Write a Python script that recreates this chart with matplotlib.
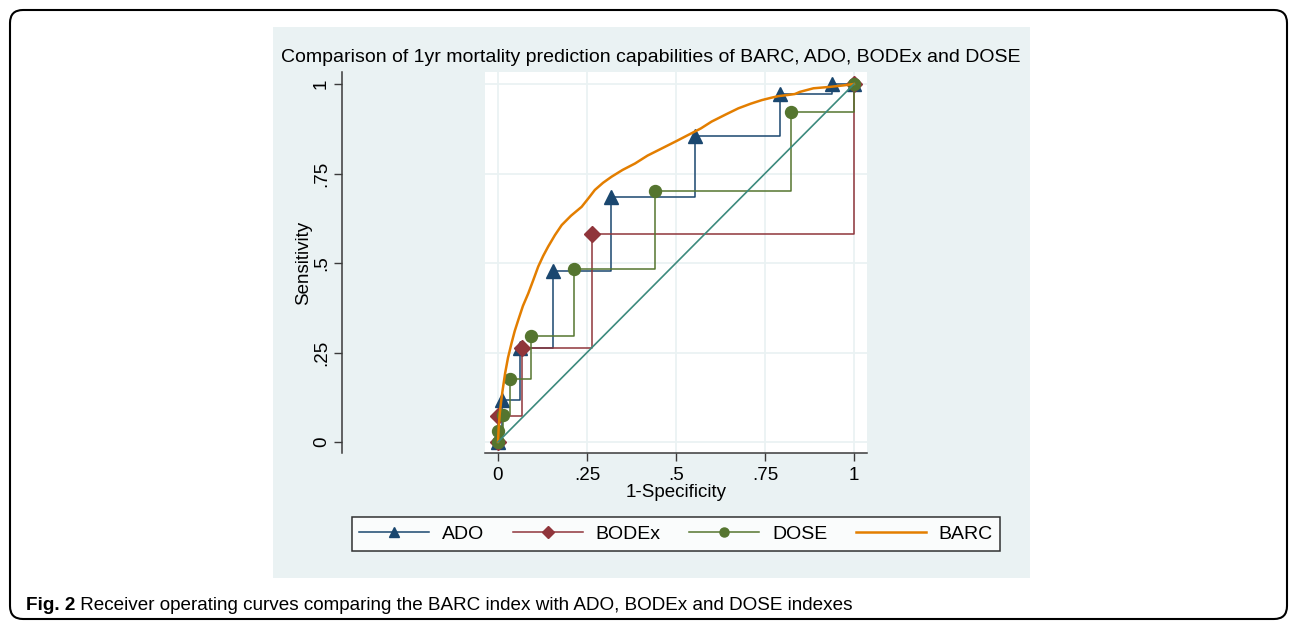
import matplotlib
matplotlib.use("Agg")
import matplotlib.pyplot as plt
from matplotlib.patches import Rectangle, FancyBboxPatch
from matplotlib.lines import Line2D

plt.rcParams['font.family'] = ['Liberation Sans', 'DejaVu Sans']

# ---------------- data ----------------
title = "Comparison of 1yr mortality prediction capabilities of BARC, ADO, BODEx and DOSE"
x_label = "1-Specificity"
y_label = "Sensitivity"
tick_values = [0, 0.25, 0.5, 0.75, 1]
tick_labels = ["0", ".25", ".5", ".75", "1"]
series_names = ["ADO", "BODEx", "DOSE", "BARC"]

ado_fpr = [0, 0.012, 0.062, 0.155, 0.318, 0.552, 0.791, 0.937, 1.0]
ado_tpr = [0, 0.117, 0.262, 0.477, 0.684, 0.855, 0.972, 1.0, 1.0]

bodex_fpr = [0, 0, 0.067, 0.263, 1.0]
bodex_tpr = [0, 0.072, 0.262, 0.580, 1.0]

dose_fpr = [0, 0, 0.014, 0.034, 0.093, 0.213, 0.441, 0.823, 1.0]
dose_tpr = [0, 0.030, 0.076, 0.175, 0.297, 0.483, 0.700, 0.921, 1.0]

barc_fpr = [0, 0.002, 0.005, 0.009, 0.013, 0.020, 0.028, 0.038, 0.047, 0.057, 0.070,
            0.085, 0.099, 0.113, 0.127, 0.141, 0.160, 0.179, 0.205, 0.235, 0.255,
            0.272, 0.295, 0.319, 0.350, 0.385, 0.420, 0.460, 0.500, 0.535, 0.570,
            0.600, 0.640, 0.675, 0.710, 0.741, 0.765, 0.787, 0.812, 0.834, 0.848,
            0.886, 0.933, 0.970, 1.0]
barc_tpr = [0, 0.040, 0.080, 0.115, 0.145, 0.192, 0.235, 0.276, 0.310, 0.341, 0.380,
            0.415, 0.452, 0.490, 0.520, 0.546, 0.578, 0.606, 0.632, 0.657, 0.682,
            0.704, 0.724, 0.741, 0.760, 0.778, 0.800, 0.820, 0.840, 0.858, 0.876,
            0.895, 0.915, 0.932, 0.945, 0.955, 0.961, 0.966, 0.969, 0.972, 0.978,
            0.988, 0.992, 0.996, 1.0]

diag = [0, 1]

caption_bold = "Fig. 2"
caption_rest = " Receiver operating curves comparing the BARC index with ADO, BODEx and DOSE indexes"

# ---------------- style ----------------
W, H = 1295, 622
c_ado = "#1a476f"
c_bodex = "#90353b"
c_dose = "#55752f"
c_barc = "#e37e00"
c_ref = "#3c8a7d"
c_panel = "#eaf2f3"
c_axis = "#3a3a3a"
fs = 13.5

fig = plt.figure(figsize=(W / 100, H / 100), dpi=100)

bg = fig.add_axes([0, 0, 1, 1], zorder=0)
bg.set_xlim(0, W)
bg.set_ylim(H, 0)
bg.axis("off")
bg.add_patch(Rectangle((273, 27), 1030 - 273, 578 - 27, facecolor=c_panel, edgecolor="none"))
bg.add_patch(FancyBboxPatch((10, 10), 1277, 609, boxstyle="round,pad=0,rounding_size=13",
                            facecolor="none", edgecolor="black", linewidth=1.5))

# plot region in pixels
L, R, T, B = 485, 867, 72, 453
ax = fig.add_axes([L / W, 1 - B / H, (R - L) / W, (B - T) / H], zorder=2)
ax.set_facecolor("white")

# data -> pixel mapping: x 0->498, 1->854 ; y 0->442, 1->84
x0p, x1p = 498, 854
y0p, y1p = 442, 84
ax.set_xlim((L - x0p) / (x1p - x0p), (R - x0p) / (x1p - x0p))
ax.set_ylim((y0p - B) / (y0p - y1p), (y0p - T) / (y0p - y1p))

for s in ["top", "right"]:
    ax.spines[s].set_visible(False)
for s in ["left", "bottom"]:
    ax.spines[s].set_color(c_axis)
    ax.spines[s].set_linewidth(1.1)
ax.spines["left"].set_position(("outward", (L - 342) * 0.72))

ax.set_xticks(tick_values)
ax.set_xticklabels(tick_labels)
ax.set_yticks(tick_values)
ax.set_yticklabels(tick_labels)
ax.grid(True, color=c_panel, linewidth=1.3)
ax.set_axisbelow(True)
ax.tick_params(axis="both", direction="out", length=5.8, width=1.0, color=c_axis,
               labelsize=fs, labelcolor="black")
ax.tick_params(axis="y", pad=3, labelrotation=90)
ax.tick_params(axis="x", pad=4)
for lab in ax.get_yticklabels():
    lab.set_va("center")
    lab.set_ha("right")

lw = 1.1
ax.plot(ado_fpr, ado_tpr, drawstyle="steps-post", color=c_ado, lw=lw,
        marker="^", markersize=10, zorder=3, clip_on=False)
ax.plot(bodex_fpr, bodex_tpr, drawstyle="steps-post", color=c_bodex, lw=lw,
        marker="D", markersize=8, zorder=3, clip_on=False)
ax.plot(dose_fpr, dose_tpr, drawstyle="steps-post", color=c_dose, lw=lw,
        marker="o", markersize=8.6, zorder=3, clip_on=False)
ax.plot(barc_fpr, barc_tpr, color=c_barc, lw=1.8, zorder=4, clip_on=False)
ax.plot(diag, diag, color=c_ref, lw=1.2, zorder=5)

ax.set_xlabel(x_label, fontsize=fs, labelpad=0)
ax.set_ylabel(y_label, fontsize=fs, labelpad=0.5)

fig.text(651 / W, 1 - 58 / H, title, fontsize=14, ha="center", va="center")

handles = [
    Line2D([], [], color=c_ado, lw=lw, marker="^", markersize=7.5),
    Line2D([], [], color=c_bodex, lw=lw, marker="D", markersize=6.5),
    Line2D([], [], color=c_dose, lw=lw, marker="o", markersize=6.5),
    Line2D([], [], color=c_barc, lw=1.8),
]
leg = fig.legend(handles, series_names, ncol=4, loc="center",
                 bbox_to_anchor=(676 / W, 1 - 534 / H), frameon=True, fancybox=False,
                 edgecolor="black", fontsize=14, handlelength=3.6, handletextpad=0.67,
                 columnspacing=1.45, borderpad=0.4, borderaxespad=0)
leg.get_frame().set_linewidth(1.1)
leg.set_zorder(6)

cap_fs = 13.6
t1 = bg.text(26, 605, caption_bold, fontsize=cap_fs, fontweight="bold", va="center",
             ha="left")
fig.canvas.draw()
bb = t1.get_window_extent()
bg.text(26 + bb.width, 605, caption_rest, fontsize=cap_fs, va="center", ha="left")

fig.savefig("out.png", dpi=100)
